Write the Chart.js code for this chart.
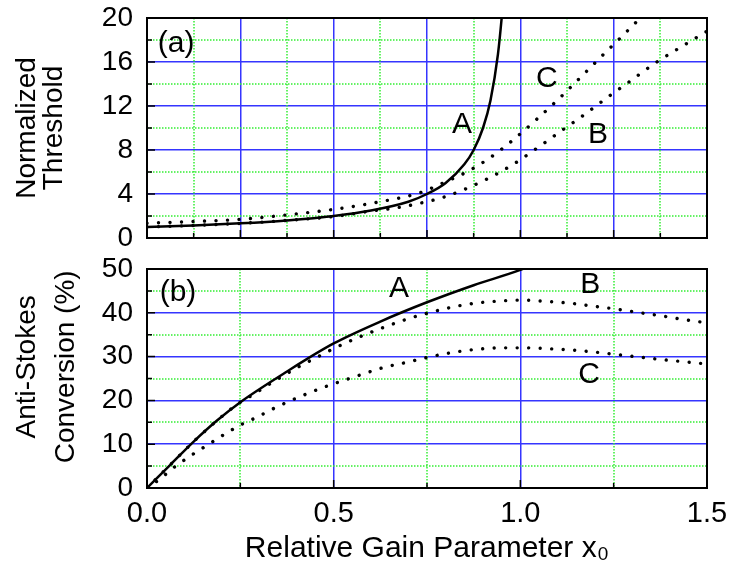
<!DOCTYPE html>
<html>
<head>
<meta charset="utf-8">
<script src="https://cdn.jsdelivr.net/npm/chart.js@4.4.1/dist/chart.umd.min.js"></script>
<style>
  html, body { margin: 0; padding: 0; background: #fff; }
  #wrap { position: relative; width: 740px; height: 579px; }
  canvas { position: absolute; left: 0; }
  #top-chart { top: 0; }
  #bottom-chart { top: 250px; }
</style>
</head>
<body>
<div id="wrap">
  <canvas id="top-chart" width="740" height="250"></canvas>
  <canvas id="bottom-chart" width="740" height="329"></canvas>
</div>
<script>
// Panel (a): normalized threshold
const aTopX = [0, 0.125, 0.25, 0.375, 0.5, 0.6, 0.7, 0.75, 0.8, 0.85, 0.875, 0.9, 0.92, 0.94, 0.95, 0.956];
const aTopY = [1.0, 1.14, 1.33, 1.6, 2.0, 2.5, 3.3, 4.0, 5.0, 6.7, 8.0, 10.0, 12.5, 16.7, 20.0, 22.5];
const bTopX = [0, 0.125, 0.25, 0.375, 0.5, 0.6, 0.67, 0.73, 0.794, 0.856, 0.919, 0.981, 1.044, 1.108, 1.171, 1.236, 1.298, 1.361, 1.432, 1.5];
const bTopY = [1.0, 1.14, 1.33, 1.6, 1.95, 2.45, 2.75, 3.15, 3.7, 4.5, 5.5, 6.7, 8.15, 9.7, 11.2, 12.85, 14.35, 15.9, 17.4, 18.8];
const cTopX = [0, 0.125, 0.25, 0.375, 0.5, 0.625, 0.73, 0.793, 0.856, 0.919, 0.98, 1.044, 1.106, 1.167, 1.229, 1.289, 1.35];
const cTopY = [1.35, 1.5, 1.7, 2.1, 2.6, 3.3, 4.1, 5.0, 6.0, 7.3, 8.9, 10.8, 12.75, 14.8, 16.9, 18.9, 21.0];

// Panel (b): anti-Stokes conversion (%)
const aBotX = [0, 0.0625, 0.125, 0.1875, 0.25, 0.375, 0.5, 0.625, 0.75, 0.875, 1.0, 1.02];
const aBotY = [0, 5.3, 10.6, 15.4, 19.6, 26.6, 33.0, 38.0, 42.4, 46.3, 49.8, 50.5];
const bBotX = [0, 0.0625, 0.125, 0.1875, 0.25, 0.28, 0.343, 0.407, 0.47, 0.502, 0.564, 0.629, 0.691, 0.755, 0.818, 0.88, 0.944, 1.006, 1.07, 1.133, 1.196, 1.26, 1.322, 1.385, 1.435, 1.5];
const bBotY = [0, 5.3, 10.6, 15.4, 19.6, 21.1, 24.5, 27.7, 30.5, 31.9, 34.3, 36.5, 38.4, 40.0, 41.3, 42.2, 42.7, 42.9, 42.6, 42.2, 41.5, 40.8, 40.0, 39.2, 38.5, 37.7];
const cBotX = [0, 0.037, 0.066, 0.097, 0.13, 0.162, 0.193, 0.224, 0.255, 0.288, 0.35, 0.414, 0.477, 0.571, 0.633, 0.696, 0.761, 0.823, 0.888, 0.95, 1.0125, 1.077, 1.139, 1.202, 1.265, 1.328, 1.392, 1.466, 1.5];
const cBotY = [0, 2.2, 4.3, 6.2, 8.1, 9.8, 11.5, 13.1, 14.6, 15.9, 18.6, 21.0, 23.1, 25.8, 27.5, 28.7, 30.0, 31.0, 31.7, 32.0, 32.0, 31.8, 31.5, 31.0, 30.4, 29.8, 29.2, 28.6, 28.3];

// Curve letters, in data coordinates
const topNotes = [
  { text: '(a)', x: 0.078, y: 17.7 },
  { text: 'A', x: 0.844, y: 10.3 },
  { text: 'C', x: 1.071, y: 14.5 },
  { text: 'B', x: 1.208, y: 9.4 }
];
const botNotes = [
  { text: '(b)', x: 0.083, y: 44.5 },
  { text: 'A', x: 0.675, y: 45.4 },
  { text: 'B', x: 1.187, y: 46.3 },
  { text: 'C', x: 1.184, y: 25.8 }
];

const FAMILY = '"Liberation Sans", Arial, sans-serif';
const BLUE = '#3535ff';
const GREEN = '#33ee33';

function toPoints(xs, ys) {
  return xs.map((x, i) => ({ x: x, y: ys[i] }));
}

function solidLine(xs, ys) {
  return {
    data: toPoints(xs, ys),
    borderColor: '#000',
    borderWidth: 2.5,
    pointRadius: 0,
    cubicInterpolationMode: 'monotone',
    fill: false
  };
}

function dottedLine(xs, ys) {
  return {
    data: toPoints(xs, ys),
    borderColor: '#000',
    borderWidth: 3.4,
    borderDash: [0.01, 11.5],
    borderCapStyle: 'round',
    pointRadius: 0,
    cubicInterpolationMode: 'monotone',
    fill: false
  };
}

// green dotted minor grid, taken from the odd ticks of the hidden xm / ym axes
const minorGridPlugin = {
  id: 'minorGrid',
  beforeDatasetsDraw(chart) {
    const { ctx, chartArea: a } = chart;
    const xs = chart.scales.xm;
    const ys = chart.scales.ym;
    ctx.save();
    ctx.strokeStyle = GREEN;
    ctx.lineWidth = 1.5;
    ctx.setLineDash([1.5, 1.5]);
    ctx.beginPath();
    xs.ticks.forEach((t, i) => {
      if (i % 2 === 0) return;
      const px = Math.round(xs.getPixelForValue(t.value));
      ctx.moveTo(px, a.top);
      ctx.lineTo(px, a.bottom);
    });
    ys.ticks.forEach((t, i) => {
      if (i % 2 === 0) return;
      const py = Math.round(ys.getPixelForValue(t.value));
      ctx.moveTo(a.left, py);
      ctx.lineTo(a.right, py);
    });
    ctx.stroke();
    ctx.restore();
  }
};

// frame, inward ticks and curve letters
const framePlugin = {
  id: 'frame',
  afterDatasetsDraw(chart, args, opts) {
    const { ctx, chartArea: a } = chart;
    const xs = chart.scales.xm;
    const ys = chart.scales.ym;
    ctx.save();
    ctx.strokeStyle = '#000';
    ctx.lineWidth = 1.5;
    ctx.beginPath();
    xs.ticks.forEach((t, i) => {
      const px = xs.getPixelForValue(t.value);
      const len = i % 2 ? 5 : 8;
      ctx.moveTo(px, a.bottom);
      ctx.lineTo(px, a.bottom - len);
    });
    ys.ticks.forEach((t, i) => {
      const py = ys.getPixelForValue(t.value);
      const len = i % 2 ? 5 : 8;
      ctx.moveTo(a.left, py);
      ctx.lineTo(a.left + len, py);
    });
    ctx.stroke();
    ctx.lineWidth = 2;
    ctx.strokeRect(a.left, a.top, a.width, a.height);

    ctx.fillStyle = '#000';
    ctx.font = '30px ' + FAMILY;
    ctx.textAlign = 'center';
    ctx.textBaseline = 'middle';
    opts.notes.forEach(n => {
      ctx.fillText(n.text, chart.scales.x.getPixelForValue(n.x), chart.scales.y.getPixelForValue(n.y));
    });
    ctx.restore();
  }
};

function makeOptions(cfg) {
  return {
    responsive: false,
    devicePixelRatio: 1,
    animation: false,
    layout: { padding: { left: 0, top: cfg.padTop, right: 33, bottom: 0 } },
    plugins: {
      legend: { display: false },
      tooltip: { enabled: false },
      frame: { notes: cfg.notes }
    },
    scales: {
      x: {
        type: 'linear',
        min: 0,
        max: 1.5,
        ticks: {
          display: cfg.showX,
          stepSize: cfg.xMajor,
          color: '#000',
          padding: 9,
          font: { family: FAMILY, size: 29 },
          callback: v => v.toFixed(1)
        },
        grid: { color: BLUE, lineWidth: 1.5, drawTicks: false },
        border: { display: false },
        title: {
          display: cfg.showX,
          text: 'Relative Gain Parameter x\u2080',
          color: '#000',
          font: { family: FAMILY, size: 30 },
          padding: { top: 0, bottom: 12 }
        },
        afterFit: s => {
          s.height = cfg.xHeight;
          s.paddingLeft = 0;
          s.paddingRight = 0;
        }
      },
      xm: {
        type: 'linear',
        position: 'top',
        min: 0,
        max: 1.5,
        ticks: { display: false, stepSize: cfg.xMajor / 2 },
        grid: { display: false },
        border: { display: false },
        afterFit: s => { s.height = 0; }
      },
      y: {
        type: 'linear',
        min: 0,
        max: cfg.yMax,
        ticks: {
          stepSize: cfg.yMajor,
          color: '#000',
          padding: 14,
          font: { family: FAMILY, size: 28 }
        },
        grid: { color: BLUE, lineWidth: 1.5, drawTicks: false },
        border: { display: false },
        title: {
          display: true,
          text: cfg.yTitle,
          color: '#000',
          font: { family: FAMILY, size: 28, lineHeight: cfg.titleLH },
          padding: { top: cfg.titlePad, bottom: 0 }
        },
        afterFit: s => {
          s.width = 147;
          s.paddingTop = 0;
          s.paddingBottom = 0;
        }
      },
      ym: {
        type: 'linear',
        position: 'right',
        min: 0,
        max: cfg.yMax,
        ticks: { display: false, stepSize: cfg.yMajor / 2 },
        grid: { display: false },
        border: { display: false },
        afterFit: s => { s.width = 0; }
      }
    }
  };
}

new Chart(document.getElementById('top-chart'), {
  type: 'line',
  data: {
    datasets: [
      solidLine(aTopX, aTopY),
      dottedLine(bTopX, bTopY),
      dottedLine(cTopX, cTopY)
    ]
  },
  options: makeOptions({
    padTop: 18, notes: topNotes, showX: false, xMajor: 0.25, xHeight: 12,
    yMax: 20, yMajor: 4, yTitle: ['Normalized', 'Threshold'], titleLH: 0.95, titlePad: 14
  }),
  plugins: [minorGridPlugin, framePlugin]
});

new Chart(document.getElementById('bottom-chart'), {
  type: 'line',
  data: {
    datasets: [
      solidLine(aBotX, aBotY),
      dottedLine(bBotX, bBotY),
      dottedLine(cBotX, cBotY)
    ]
  },
  options: makeOptions({
    padTop: 19, notes: botNotes, showX: true, xMajor: 0.5, xHeight: 91,
    // leading spaces nudge the rotated title a little upward, as in the original
    yMax: 50, yMajor: 10, yTitle: ['   Anti-Stokes', '   Conversion (%)'], titleLH: 1.38, titlePad: 8
  }),
  plugins: [minorGridPlugin, framePlugin]
});
</script>
</body>
</html>
